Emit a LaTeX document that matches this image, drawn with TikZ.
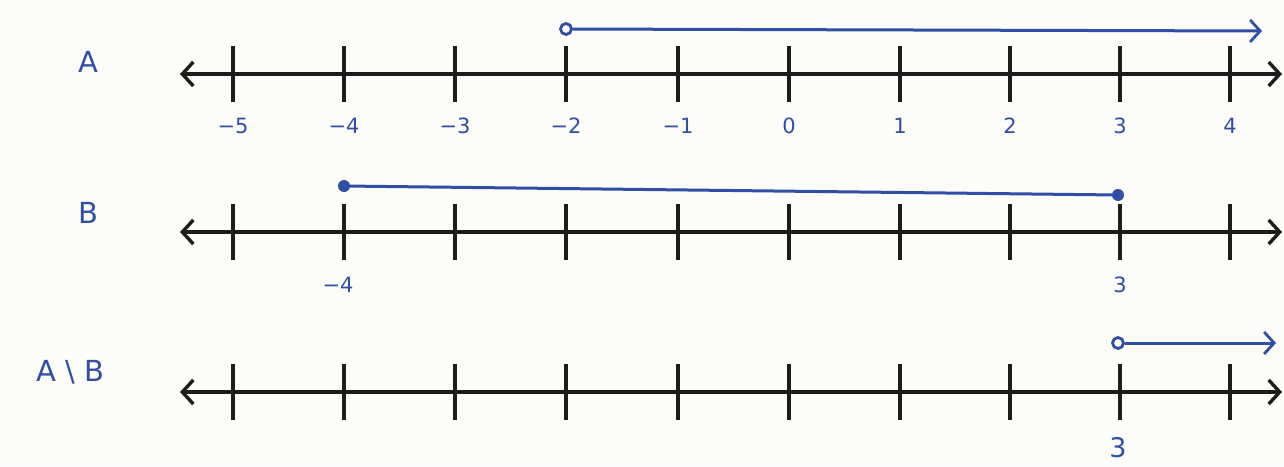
\documentclass[tikz,border=0pt]{standalone}
\usepackage{fontspec}
\setmainfont{DejaVu Sans}
\usetikzlibrary{arrows.meta}
\definecolor{ink}{RGB}{48,78,165}
\definecolor{pen}{RGB}{28,28,28}
\definecolor{paper}{RGB}{252,252,248}
\begin{document}
\begin{tikzpicture}[x=1pt,y=-1pt,
  axis/.style={draw=pen,line width=3.6pt,{Straight Barb[length=11pt,width=24pt,line width=3.4pt]}-{Straight Barb[length=11pt,width=24pt,line width=3.4pt]}},
  tick/.style={draw=pen,line width=3.4pt},
  ray/.style={draw=ink,line width=3pt},
  numlab/.style={text=ink,font=\fontsize{21}{21}\selectfont,anchor=center},
  setlab/.style={text=ink,font=\fontsize{29}{29}\selectfont,anchor=center},
  opendot/.style={circle,draw=ink,line width=2.8pt,fill=paper,inner sep=0pt,minimum size=11pt},
  filldot/.style={circle,fill=ink,inner sep=0pt,minimum size=12pt}]
\fill[paper] (0,0) rectangle (1284,466);
\useasboundingbox (0,0) rectangle (1284,466);
% line A
\coordinate (aL) at (180,74); \coordinate (aR) at (1282,74);
\draw[axis] (aL) -- (aR);
\foreach \v/\x in {-5/233,-4/344,-3/455,-2/566,-1/678,0/789,1/900,2/1010,3/1120,4/1230}{
  \draw[tick] (\x,46) -- (\x,102);
  \node[numlab] at (\x,126) {\ifnum\v<0 −\the\numexpr-\v\relax\else\v\fi};
}
\node[setlab] (A) at (88,62) {A};
\node[opendot] (a1) at (566,29) {};
\coordinate (a2) at (1262,31);
\draw[ray,-{Straight Barb[length=10pt,width=22pt,line width=2.8pt]}] (a1) -- (a2);
% line B
\coordinate (bL) at (180,232); \coordinate (bR) at (1282,232);
\draw[axis] (bL) -- (bR);
\foreach \x in {233,344,455,566,678,789,900,1010,1120,1230}{
  \draw[tick] (\x,204) -- (\x,260);
}
\node[numlab] at (338,285) {−4};
\node[numlab] at (1120,285) {3};
\node[setlab] (B) at (88,213) {B};
\node[filldot] (b1) at (344,186) {};
\node[filldot] (b2) at (1118,195) {};
\draw[ray] (b1) -- (b2);
% line A\B
\coordinate (cL) at (180,392); \coordinate (cR) at (1282,392);
\draw[axis] (cL) -- (cR);
\foreach \x in {233,344,455,566,678,789,900,1010,1120,1230}{
  \draw[tick] (\x,364) -- (\x,420);
}
\node[numlab,font=\fontsize{27}{27}\selectfont] at (1118,448) {3};
\node[setlab] (AB) at (70,372) {A \textbackslash\ B};
\node[opendot] (c1) at (1118,343) {};
\coordinate (c2) at (1276,343);
\draw[ray,-{Straight Barb[length=10pt,width=22pt,line width=2.8pt]}] (c1) -- (c2);
\end{tikzpicture}
\end{document}
